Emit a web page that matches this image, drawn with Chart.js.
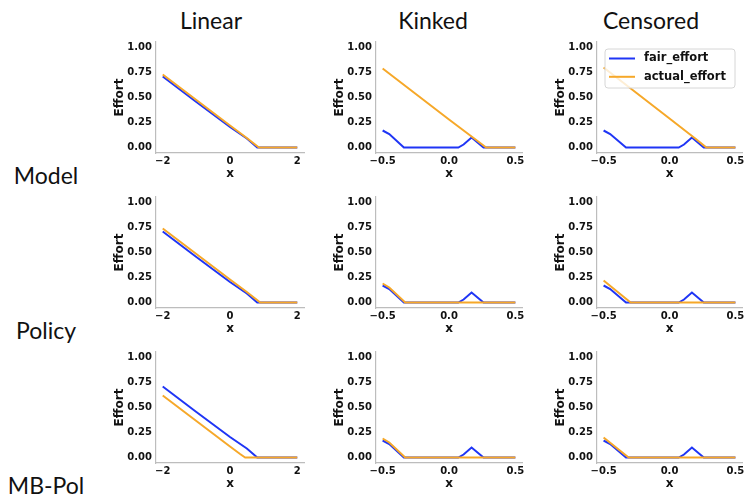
<!DOCTYPE html>
<html>
<head>
<meta charset="utf-8">
<script src="https://cdn.jsdelivr.net/npm/chart.js@4/dist/chart.umd.min.js"></script>
<style>
    body { margin: 0; background: #fff; width: 745px; height: 500px; position: relative; overflow: hidden; }
    canvas { position: absolute; }
    .lbl { position: absolute; font-family: Lato, 'Open Sans', sans-serif; font-size: 23px; line-height: 1; color: #111; white-space: nowrap; transform: translate(-50%, -50%); }
</style>
</head>
<body>
<script>
var colTitles = ['Linear', 'Kinked', 'Censored'];
var rowTitles = ['Model', 'Policy', 'MB-Pol'];
var seriesNames = ['fair_effort', 'actual_effort'];
var yTicks = [0, 0.25, 0.5, 0.75, 1];
var xTicksLinear = [-2, 0, 2];
var xTicksNarrow = [-0.5, 0, 0.5];

// fair_effort (same target in every row)
var fairLinear = [[-2, 0.71], [-1, 0.455], [0, 0.205], [0.5, 0.09], [0.81, 0], [2, 0]];
var fairKinked = [[-0.5, 0.17], [-0.45, 0.135], [-0.34, 0], [0.07, 0], [0.11, 0.03], [0.17, 0.1], [0.26, 0], [0.5, 0]];
var fairCensored = [[-0.5, 0.17], [-0.45, 0.135], [-0.33, 0], [0.07, 0], [0.11, 0.03], [0.17, 0.1], [0.26, 0], [0.5, 0]];

// actual_effort per row
var actLinearModel = [[-2, 0.73], [-1, 0.475], [0, 0.22], [0.5, 0.095], [0.86, 0], [2, 0]];
var actLinearPolicy = [[-2, 0.74], [-1, 0.485], [0, 0.23], [0.5, 0.105], [0.9, 0], [2, 0]];
var actLinearMBPol = [[-2, 0.62], [-1, 0.365], [0, 0.11], [0.3, 0.035], [0.45, 0], [2, 0]];
var actKinkedModel = [[-0.5, 0.79], [-0.25, 0.535], [0, 0.28], [0.2, 0.08], [0.28, 0], [0.5, 0]];
var actKinkedPolicy = [[-0.5, 0.19], [-0.45, 0.15], [-0.33, 0], [0.5, 0]];
var actKinkedMBPol = [[-0.5, 0.19], [-0.45, 0.15], [-0.33, 0], [0.5, 0]];
var actCensoredModel = [[-0.5, 0.8], [-0.25, 0.545], [0, 0.29], [0.2, 0.085], [0.28, 0], [0.5, 0]];
var actCensoredPolicy = [[-0.5, 0.22], [-0.295, 0], [0.5, 0]];
var actCensoredMBPol = [[-0.5, 0.2], [-0.31, 0], [0.5, 0]];

var fairByCol = [fairLinear, fairKinked, fairCensored];
var actualByCell = [
    [actLinearModel, actKinkedModel, actCensoredModel],
    [actLinearPolicy, actKinkedPolicy, actCensoredPolicy],
    [actLinearMBPol, actKinkedMBPol, actCensoredMBPol]
];

var BLUE = '#1f35f5';
var ORANGE = '#f6a829';
var TICK_FONT = { family: 'DejaVu Sans', weight: 'bold', size: 10 };
var TITLE_FONT = { family: 'DejaVu Sans', weight: 'bold', size: 12 };

// plot area geometry
var colLeft = [156, 376, 597];
var plotW = [148, 146, 145];
var rowTop = [40, 195, 350];
var plotH = 113;
var Y_AXIS_W = 46, X_AXIS_H = 28, PAD_TOP = 8, PAD_RIGHT = 10;

function toXY(arr) {
    return arr.map(function(p) { return { x: p[0], y: p[1] }; });
}

function fmtX(v, narrow) {
    var s = narrow ? v.toFixed(1) : String(v);
    return s.replace('-', '\u2212');
}

var insideLegend = {
    id: 'insideLegend',
    afterDraw: function(chart) {
        var ctx = chart.ctx;
        var a = chart.chartArea;
        var x0 = a.left + 8, y0 = a.top + 7;
        ctx.save();
        ctx.beginPath();
        ctx.roundRect(x0, y0, 130, 39, 3);
        ctx.fillStyle = 'rgba(255,255,255,0.8)';
        ctx.fill();
        ctx.strokeStyle = '#d6d6d6';
        ctx.lineWidth = 1;
        ctx.stroke();
        ctx.font = 'bold 11.5px "DejaVu Sans"';
        ctx.textBaseline = 'middle';
        ctx.textAlign = 'left';
        seriesNames.forEach(function(name, i) {
            var ds = chart.data.datasets[i];
            var y = a.top + 16.5 + i * 18.3;
            ctx.strokeStyle = ds.borderColor;
            ctx.lineWidth = 2;
            ctx.beginPath();
            ctx.moveTo(a.left + 12, y);
            ctx.lineTo(a.left + 38, y);
            ctx.stroke();
            ctx.fillStyle = '#111';
            ctx.fillText(name, a.left + 47, y);
        });
        ctx.restore();
    }
};

function makePanel(r, c) {
    var narrow = c > 0;
    var cv = document.createElement('canvas');
    var w = Y_AXIS_W + plotW[c] + PAD_RIGHT;
    var h = PAD_TOP + plotH + X_AXIS_H;
    cv.width = w; cv.height = h;
    cv.style.left = (colLeft[c] - Y_AXIS_W) + 'px';
    cv.style.top = (rowTop[r] - PAD_TOP) + 'px';
    cv.style.width = w + 'px';
    cv.style.height = h + 'px';
    document.body.appendChild(cv);

    var xTicks = narrow ? xTicksNarrow : xTicksLinear;
    var span = narrow ? 0.55 : 2.2;

    new Chart(cv.getContext('2d'), {
        type: 'line',
        plugins: (r === 0 && c === 2) ? [insideLegend] : [],
        data: {
            datasets: [
                { label: seriesNames[0], data: toXY(fairByCol[c]), borderColor: BLUE, borderWidth: 2, pointRadius: 0, order: 1 },
                { label: seriesNames[1], data: toXY(actualByCell[r][c]), borderColor: ORANGE, borderWidth: 2, pointRadius: 0, order: 0 }
            ]
        },
        options: {
            responsive: false,
            animation: false,
            events: [],
            layout: { padding: { top: PAD_TOP, right: PAD_RIGHT, left: 0, bottom: 0 } },
            plugins: { legend: { display: false }, tooltip: { enabled: false } },
            scales: {
                x: {
                    type: 'linear',
                    min: -span, max: span,
                    afterBuildTicks: function(s) { s.ticks = xTicks.map(function(v) { return { value: v }; }); },
                    afterFit: function(s) { s.height = X_AXIS_H; },
                    grid: { display: true, drawOnChartArea: false, drawTicks: false },
                    border: { display: true, color: '#bdbdbd', width: 1.2 },
                    ticks: {
                        padding: 2, color: '#111', font: TICK_FONT, maxRotation: 0,
                        callback: function(v) { return fmtX(v, narrow); }
                    },
                    title: { display: true, text: 'x', color: '#111', font: TITLE_FONT, padding: { top: 0, bottom: 0 } }
                },
                y: {
                    min: -0.055, max: 1.055,
                    afterBuildTicks: function(s) { s.ticks = yTicks.map(function(v) { return { value: v }; }); },
                    afterFit: function(s) { s.width = Y_AXIS_W; },
                    grid: { display: true, drawOnChartArea: false, drawTicks: false },
                    border: { display: true, color: '#bdbdbd', width: 1.2 },
                    ticks: {
                        padding: 4, color: '#111', font: TICK_FONT,
                        callback: function(v) { return v.toFixed(2); }
                    },
                    title: { display: true, text: 'Effort', color: '#111', font: TITLE_FONT, padding: { top: 3, bottom: 0 } }
                }
            }
        }
    });
}

function addLabel(text, x, y) {
    var d = document.createElement('div');
    d.className = 'lbl';
    d.textContent = text;
    d.style.left = x + 'px';
    d.style.top = y + 'px';
    document.body.appendChild(d);
}

var colTitleX = [211, 433, 651];
var rowTitleY = [175, 330, 485];

colTitles.forEach(function(t, c) { addLabel(t, colTitleX[c], 20); });
rowTitles.forEach(function(t, r) { addLabel(t, 46, rowTitleY[r]); });

for (var r = 0; r < 3; r++) {
    for (var c = 0; c < 3; c++) {
        makePanel(r, c);
    }
}
</script>
</body>
</html>
